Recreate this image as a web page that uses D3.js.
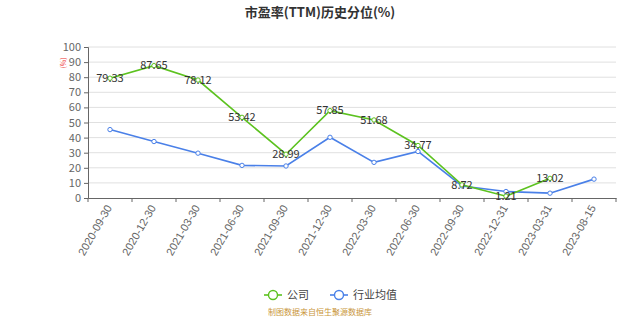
<!DOCTYPE html>
<html>
<head>
<meta charset="utf-8">
<script src="https://cdn.jsdelivr.net/npm/d3@7"></script>
<style>
  body { margin: 0; background: #fff; }
  svg { display: block; font-family: "Noto Sans CJK SC", "Noto Sans", sans-serif; }
</style>
</head>
<body>
<svg id="chart"></svg>
<script>
const dates = ["2020-09-30", "2020-12-30", "2021-03-30", "2021-06-30", "2021-09-30", "2021-12-30",
  "2022-03-30", "2022-06-30", "2022-09-30", "2022-12-31", "2023-03-31", "2023-08-15"]
const companyValues = [79.33, 87.65, 78.12, 53.42, 28.99, 57.85, 51.68, 34.77, 8.72, 1.21, 13.02, null]
const industryValues = [45.3, 37.4, 29.7, 21.6, 21.2, 40.2, 23.6, 30.8, 8.0, 4.3, 3.2, 12.5]
const yTicks = [0, 10, 20, 30, 40, 50, 60, 70, 80, 90, 100]

const width = 640, height = 320
const margins = {left: 88, right: 24, top: 47, bottom: 122}

const svg = d3.select("#chart").attr("width", width).attr("height", height)

const scaleX = d3.scaleBand().domain(dates).range([margins.left, width - margins.right])
const scaleY = d3.scaleLinear().domain([0, 100]).range([height - margins.bottom, margins.top])
const cx = d => scaleX(d) + scaleX.bandwidth() / 2

// title
svg.append("text").text("市盈率(TTM)历史分位(%)")
    .attr("x", 320).attr("y", 17).attr("text-anchor", "middle")
    .attr("font-size", 13).attr("font-weight", "bold").attr("fill", "#333")

// grid
svg.append("g").selectAll("line").data(yTicks.filter(d => d > 0)).join("line")
    .attr("x1", margins.left).attr("x2", width - margins.right)
    .attr("y1", d => scaleY(d)).attr("y2", d => scaleY(d))
    .attr("stroke", "#e0e0e0").attr("stroke-width", 1)

// y axis
const yAxis = svg.append("g").attr("transform", `translate(${margins.left},0)`)
    .call(d3.axisLeft(scaleY).tickValues(yTicks).tickSize(4).tickPadding(3))
yAxis.select(".domain").attr("stroke", "#666")
yAxis.selectAll(".tick line").attr("stroke", "#666")
yAxis.selectAll("text").attr("fill", "#666").attr("font-size", 11).attr("font-family", "Noto Sans CJK SC, sans-serif")

// unit label
svg.append("text").text("(%)")
    .attr("transform", `translate(66,63) rotate(-90)`)
    .attr("text-anchor", "middle").attr("font-size", 7).attr("fill", "#e33")

// x axis
const xAxis = svg.append("g").attr("transform", `translate(0,${height - margins.bottom})`)
    .call(d3.axisBottom(scaleX).tickSize(0).tickPadding(6))
xAxis.select(".domain").attr("stroke", "#666")
xAxis.selectAll(".tick line").remove()
xAxis.selectAll(".tick text")
    .attr("fill", "#666").attr("font-size", 11)
    .attr("text-anchor", "end").attr("dy", "0.35em")
    .attr("transform", "translate(0,6) rotate(-60)").attr("y", 0).attr("x", -2)
// boundary ticks
svg.append("g").selectAll("line").data(d3.range(dates.length + 1)).join("line")
    .attr("x1", i => margins.left + i * scaleX.step()).attr("x2", i => margins.left + i * scaleX.step())
    .attr("y1", height - margins.bottom).attr("y2", height - margins.bottom + 4)
    .attr("stroke", "#666")

const series = [
  {name: "公司", values: companyValues, color: "#5cc21f"},
  {name: "行业均值", values: industryValues, color: "#4a80e8"}
]

const lineGenerator = d3.line()
    .defined(d => d[1] !== null)
    .x(d => cx(d[0]))
    .y(d => scaleY(d[1]))

series.slice().reverse().forEach(s => {
  const pts = dates.map((d, i) => [d, s.values[i]])
  svg.append("path").attr("d", lineGenerator(pts))
      .attr("fill", "none").attr("stroke", s.color).attr("stroke-width", 1.6)
  svg.append("g").selectAll("circle").data(pts.filter(d => d[1] !== null)).join("circle")
      .attr("cx", d => cx(d[0])).attr("cy", d => scaleY(d[1])).attr("r", 2.2)
      .attr("fill", "#fff").attr("stroke", s.color).attr("stroke-width", 1)
})

// company labels
svg.append("g").selectAll("text")
    .data(dates.map((d, i) => [d, companyValues[i]]).filter(d => d[1] !== null))
    .join("text")
    .text(d => d[1].toFixed(2))
    .attr("x", d => cx(d[0])).attr("y", d => scaleY(d[1]))
    .attr("dy", "0.35em").attr("text-anchor", "middle")
    .attr("font-size", 11).attr("fill", "#333")

// legend
const legend = svg.append("g")
const legendItems = [{x: 264, label: "公司", color: "#5cc21f"}, {x: 330, label: "行业均值", color: "#4a80e8"}]
legendItems.forEach(l => {
  legend.append("line").attr("x1", l.x).attr("x2", l.x + 18).attr("y1", 295).attr("y2", 295)
      .attr("stroke", l.color).attr("stroke-width", 1.6)
  legend.append("circle").attr("cx", l.x + 9).attr("cy", 295).attr("r", 4.5)
      .attr("fill", "#fff").attr("stroke", l.color).attr("stroke-width", 1.4)
  legend.append("text").text(l.label).attr("x", l.x + 23).attr("y", 295).attr("dy", "0.35em")
      .attr("font-size", 11).attr("fill", "#444")
})

svg.append("text").text("制图数据来自恒生聚源数据库")
    .attr("x", 320).attr("y", 315).attr("text-anchor", "middle")
    .attr("font-size", 8).attr("fill", "#c9963a")
</script>
</body>
</html>
